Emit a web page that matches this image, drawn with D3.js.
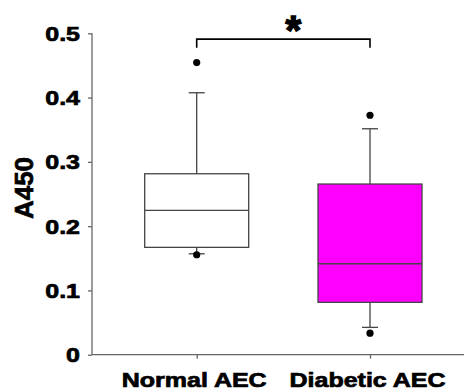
<!DOCTYPE html>
<html>
<head>
<meta charset="utf-8">
<script src="https://cdn.jsdelivr.net/npm/d3@7"></script>
<style>
  html, body { margin: 0; padding: 0; background: #fff; }
  svg { display: block; }
  text { font-family: "Liberation Sans", Arial, sans-serif; font-weight: bold; fill: #000; stroke: #000; stroke-width: 0.7px; }
</style>
</head>
<body>
<svg id="chart" width="464" height="392"></svg>
<script>
// Box-plot summary of A450 absorbance for each group
const groups = ["Normal AEC", "Diabetic AEC"];
const q1 = [0.167, 0.0815];
const median = [0.2245, 0.1415];
const q3 = [0.2815, 0.2655];
const whiskerLow = [0.157, 0.0425];
const whiskerHigh = [0.4075, 0.3515];
const outliers = [[0.4545, 0.1555], [0.3725, 0.0335]];
const boxFill = ["#ffffff", "#ff00ff"];
const yTicks = [0, 0.1, 0.2, 0.3, 0.4, 0.5];
const sigLabel = "*";

const svg = d3.select("#chart");

const y = d3.scaleLinear().domain([0, 0.5]).range([354.7, 33.3]);
const x = d3.scalePoint().domain(groups).range([196.7, 370]);
const boxW = 104;
const capW = 16;
const axisX = 92;
const stretch = 1.25;

// Y axis
const yAxis = d3.axisLeft(y)
  .tickValues(yTicks)
  .tickSize(4)
  .tickPadding(8)
  .tickFormat(d => d === 0 ? "0" : d3.format(".1f")(d));
const gy = svg.append("g").attr("transform", `translate(${axisX},0)`).call(yAxis);
gy.select(".domain").attr("stroke", "#666").attr("stroke-width", 1.3)
  .attr("d", `M0,${y(0.5)}V${y(0)}`);
gy.selectAll(".tick line").attr("stroke", "#666").attr("stroke-width", 1.3);
gy.selectAll(".tick text")
  .attr("font-size", 20)
  .attr("font-family", null)
  .attr("x", null).attr("dy", null)
  .attr("transform", `translate(-12,0) scale(${stretch},1) translate(0,7)`);

// X axis
const xAxis = d3.axisBottom(x).tickSize(4).tickPadding(14);
const gx = svg.append("g").attr("transform", `translate(0,${y(0)})`).call(xAxis);
gx.select(".domain").attr("stroke", "#666").attr("stroke-width", 1.3)
  .attr("d", `M${axisX},0H464`);
gx.selectAll(".tick line").attr("stroke", "#666").attr("stroke-width", 1.3);
gx.selectAll(".tick text")
  .attr("font-size", 20)
  .attr("font-family", null)
  .attr("y", null).attr("dy", null)
  .attr("transform", `translate(-3,32) scale(${stretch},1)`);

// Y axis title
svg.append("text")
  .attr("transform", `translate(33,${(y(0.2) + y(0.3)) / 2 - 6}) rotate(-90)`)
  .attr("text-anchor", "middle")
  .attr("font-size", 26)
  .text("A450");

// Boxes, whiskers and outliers
const g = svg.append("g");
groups.forEach((name, i) => {
  const cx = x(name);
  const stroke = "#444";
  // whiskers
  g.append("line").attr("x1", cx).attr("x2", cx)
    .attr("y1", y(q3[i])).attr("y2", y(whiskerHigh[i]))
    .attr("stroke", stroke).attr("stroke-width", 1.3);
  g.append("line").attr("x1", cx).attr("x2", cx)
    .attr("y1", y(q1[i])).attr("y2", y(whiskerLow[i]))
    .attr("stroke", stroke).attr("stroke-width", 1.3);
  [whiskerHigh[i], whiskerLow[i]].forEach(v => {
    g.append("line").attr("x1", cx - capW / 2).attr("x2", cx + capW / 2)
      .attr("y1", y(v)).attr("y2", y(v))
      .attr("stroke", stroke).attr("stroke-width", 1.3);
  });
  // box
  g.append("rect")
    .attr("x", cx - boxW / 2).attr("width", boxW)
    .attr("y", y(q3[i])).attr("height", y(q1[i]) - y(q3[i]))
    .attr("fill", boxFill[i]).attr("stroke", stroke).attr("stroke-width", 1.3);
  g.append("line").attr("x1", cx - boxW / 2).attr("x2", cx + boxW / 2)
    .attr("y1", y(median[i])).attr("y2", y(median[i]))
    .attr("stroke", stroke).attr("stroke-width", 1.3);
  // outliers
  outliers[i].forEach(v => {
    g.append("circle").attr("cx", cx).attr("cy", y(v)).attr("r", 3.6).attr("fill", "#000");
  });
});

// Significance bracket
const bracketTop = 0.491, bracketEnd = 0.4775;
const [xa, xb] = groups.map(d => x(d));
svg.append("path")
  .attr("d", `M${xa},${y(bracketEnd)}V${y(bracketTop)}H${xb}V${y(bracketEnd)}`)
  .attr("fill", "none").attr("stroke", "#000").attr("stroke-width", 1.6);
svg.append("text")
  .attr("x", (xa + xb) / 2 + 10).attr("y", 44)
  .attr("text-anchor", "middle")
  .attr("font-size", 40)
  .style("stroke-width", "1.5px")
  .text(sigLabel);
</script>
</body>
</html>
